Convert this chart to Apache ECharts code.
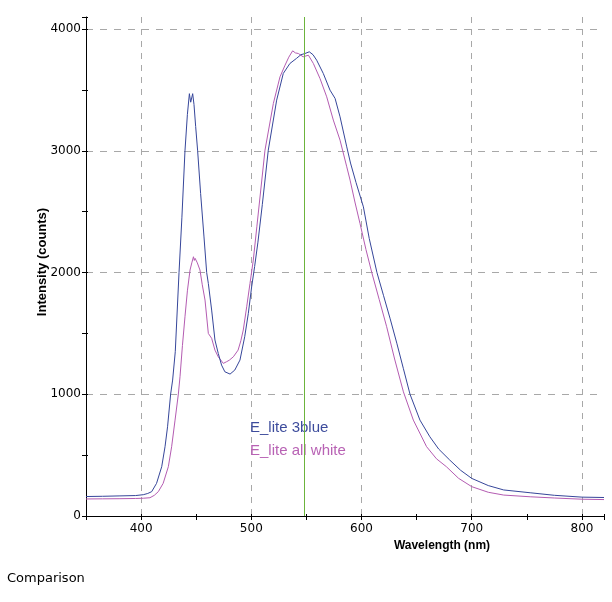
<!DOCTYPE html>
<html>
<head>
<meta charset="utf-8">
<script src="https://cdn.jsdelivr.net/npm/echarts@6/dist/echarts.min.js"></script>
<style>
  html, body { margin: 0; padding: 0; background: #fff; }
  #chart { width: 612px; height: 602px; }
</style>
</head>
<body>
<div id="chart"></div>
<script>
    'use strict';

    // E_lite 3blue
    var blueNm = [350, 365, 380, 395, 402, 406, 409.6, 414, 418.7, 421.7, 424, 426.8, 428.6, 431, 434.4, 437, 439.8,
        442, 443.8, 445, 446.8, 448, 449.5, 451.3, 454, 457, 459.5, 461, 464, 467, 470, 473, 476, 480.7, 485, 489.7,
        494, 497.3, 500.3, 503, 506, 510, 515.4, 523, 529, 535, 541, 545, 548.7, 552.6, 556, 559.3, 565.3, 571.4,
        576, 580.5, 586.6, 590, 595, 601.7, 607, 614, 620, 626, 632, 638, 644, 653, 662, 670, 680, 690, 700, 715,
        729, 753, 775, 800, 820];
    var blueVal = [160, 162, 165, 168, 175, 185, 200, 268, 405, 569, 733, 1002, 1117, 1350, 2000, 2450, 3000,
        3300, 3470, 3400, 3470, 3380, 3200, 3000, 2650, 2300, 2000, 1911, 1692, 1446, 1336, 1240, 1185, 1166, 1199, 1281,
        1473, 1665, 1883, 2050, 2250, 2560, 3006, 3417, 3636, 3718, 3760, 3790, 3800, 3814, 3790, 3745, 3636, 3499,
        3431, 3280, 3033, 2900, 2740, 2540, 2280, 2000, 1810, 1620, 1420, 1210, 1000, 788, 651, 550, 460, 375, 309, 250,
        214, 191, 170, 155, 152];

    // E_lite all white
    var whiteNm = [350, 365, 380, 395, 402, 408, 412, 415.6, 420, 424.7, 427.7, 430.8, 433.8, 435.3, 437.5, 439.8,
        442, 444.4, 446, 447.5, 448.3, 449, 451, 453.4, 455.5, 458, 461, 464, 467, 470, 474.6, 477.6, 480, 483.7, 488,
        490.5, 492.7, 495.8, 498.8, 501.8, 505, 512.4, 520, 526, 530.6, 534, 537.5, 540, 542.7, 547, 551.8, 556.3,
        562.3, 568.4, 574.4, 580.5, 586.6, 589.6, 594, 598.6, 604, 609.3, 616, 622.8, 630, 638, 647, 659, 668, 677,
        688, 700, 715, 729, 753, 775, 800, 820];
    var whiteVal = [140, 141, 142, 144, 146, 150, 170, 200, 268, 405, 569, 788, 1002, 1144, 1400, 1637,
        1850, 2021, 2080, 2130, 2100, 2117, 2080, 2021, 1900, 1774, 1500, 1460, 1363, 1308, 1254, 1268, 1280, 1308, 1363,
        1440, 1528, 1719, 1911, 2103, 2376, 3006, 3390, 3608, 3704, 3770, 3822, 3805, 3800, 3773, 3786, 3718,
        3595, 3444, 3253, 3088, 2869, 2760, 2580, 2404, 2190, 2000, 1780, 1555, 1290, 1020, 788, 570, 470, 405,
        310, 241, 195, 172, 158, 148, 138, 135];

    var markerNm = 548;

    var X_MIN = 350, X_MAX = 820, Y_MIN = 0, Y_MAX = 4100;
    var FONT = 'DejaVu Sans';
    var TITLE_FONT = 'Liberation Sans';
    var GRID_COLOR = '#a8a8a8';

    function pairs(xs, ys) {
        var out = [];
        for (var i = 0; i < xs.length; i++) {
            out.push([xs[i], ys[i]]);
        }
        return out;
    }

    var chart = echarts.init(document.getElementById('chart'), null, {renderer: 'canvas'});

    var xBase = {type: 'value', min: X_MIN, max: X_MAX, interval: 50, position: 'bottom'};
    var yBase = {type: 'value', min: Y_MIN, max: Y_MAX, interval: 500, position: 'left'};

    chart.setOption({
        animation: false,
        backgroundColor: '#fff',
        grid: {left: 86, right: 8, top: 17, bottom: 86, containLabel: false},
        legend: {
            orient: 'vertical',
            left: 239,
            top: 415,
            itemWidth: 0,
            itemHeight: 0,
            itemGap: 8,
            selectedMode: false,
            textStyle: {fontFamily: 'Liberation Sans', fontSize: 15},
            data: [
                {name: 'E_lite 3blue', textStyle: {color: '#3d4c9c'}},
                {name: 'E_lite all white', textStyle: {color: '#b862b4'}}
            ]
        },
        xAxis: [
            Object.assign({}, xBase, {
                axisLine: {show: true, onZero: false, lineStyle: {color: '#000', width: 1}},
                axisTick: {show: true, inside: false, length: 4, lineStyle: {color: '#000'}},
                axisLabel: {
                    margin: 7, color: '#000', fontFamily: FONT, fontSize: 12,
                    formatter: function (v) { return v % 100 === 0 ? String(v) : ''; }
                },
                splitLine: {show: false},
                name: 'Wavelength (nm)',
                nameLocation: 'middle',
                nameGap: 24,
                nameMoveOverlap: false,
                nameTextStyle: {fontFamily: TITLE_FONT, fontSize: 12, fontWeight: 'bold', color: '#000', padding: [0, 0, 0, 194]}
            }),
            Object.assign({}, xBase, {
                axisLine: {show: false, onZero: false},
                axisTick: {show: true, inside: true, length: 2, lineStyle: {color: '#000'}},
                axisLabel: {show: false},
                splitLine: {show: true, lineStyle: {color: ['transparent', GRID_COLOR], type: [6, 6], width: 1}}
            })
        ],
        yAxis: [
            Object.assign({}, yBase, {
                axisLine: {show: true, onZero: false, lineStyle: {color: '#000', width: 1}},
                axisTick: {show: true, inside: false, length: 4, lineStyle: {color: '#000'}},
                axisLabel: {
                    margin: 5, color: '#000', fontFamily: FONT, fontSize: 12,
                    formatter: function (v) { return (v % 1000 === 0 && v <= 4000) ? String(v) : ''; }
                },
                splitLine: {show: false},
                name: 'Intensity (counts)',
                nameLocation: 'middle',
                nameGap: 37,
                nameMoveOverlap: false,
                nameTextStyle: {fontFamily: TITLE_FONT, fontSize: 13, fontWeight: 'bold', color: '#000', padding: [0, 0, 0, 9]}
            }),
            Object.assign({}, yBase, {
                axisLine: {show: false, onZero: false},
                axisTick: {show: true, inside: true, length: 2, lineStyle: {color: '#000'}},
                axisLabel: {show: false},
                splitLine: {show: true, lineStyle: {color: [GRID_COLOR, 'transparent'], type: [7, 7], width: 1}}
            })
        ],
        graphic: [{
            type: 'text',
            left: 7,
            top: 572,
            style: {text: 'Comparison', font: '13px "DejaVu Sans"', fill: '#000'}
        }],
        series: [
            {
                name: 'E_lite 3blue',
                type: 'line',
                xAxisIndex: 0,
                yAxisIndex: 0,
                showSymbol: false,
                symbol: 'none',
                color: '#36469a',
                lineStyle: {width: 1, color: '#36469a'},
                data: pairs(blueNm, blueVal),
                z: 3,
                markLine: {
                    silent: true,
                    symbol: 'none',
                    label: {show: false},
                    lineStyle: {color: '#6cb43c', type: 'solid', width: 1},
                    data: [{xAxis: markerNm}]
                }
            },
            {
                name: 'E_lite all white',
                type: 'line',
                xAxisIndex: 0,
                yAxisIndex: 0,
                showSymbol: false,
                symbol: 'none',
                color: '#b45cb2',
                lineStyle: {width: 1, color: '#b45cb2'},
                data: pairs(whiteNm, whiteVal),
                z: 2
            }
        ]
    });
</script>
</body>
</html>
